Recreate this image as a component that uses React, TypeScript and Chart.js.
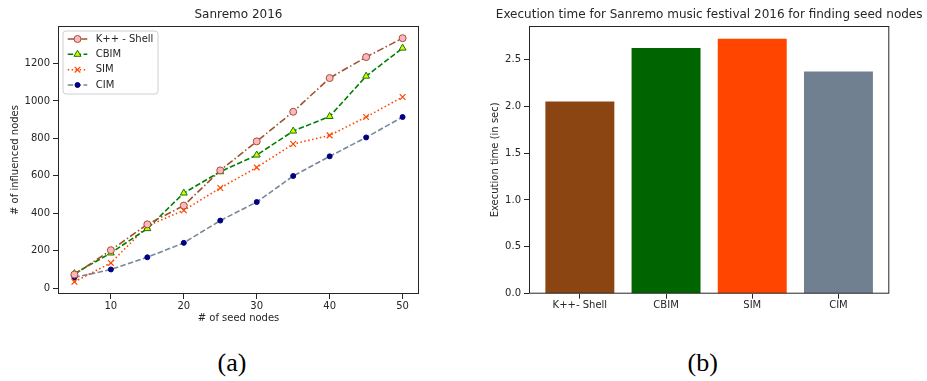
import React, { useEffect, useRef } from "react";
import { Chart, registerables } from "chart.js";

Chart.register(...registerables);

// ---------- Data: chart (a) ----------
const seedNodes = [5, 10, 15, 20, 25, 30, 35, 40, 45, 50];
const kppShell = [73, 203, 341, 441, 629, 784, 942, 1122, 1234, 1335];
const cbim = [78, 188, 318, 508, 622, 711, 839, 917, 1132, 1282];
const sim = [34, 135, 332, 416, 535, 645, 770, 816, 914, 1021];
const cim = [57, 100, 165, 242, 361, 460, 599, 704, 805, 914];
const lineXTicks = [10, 20, 30, 40, 50];
const lineYTicks = [0, 200, 400, 600, 800, 1000, 1200];
const seriesNames = ["K++ - Shell", "CBIM", "SIM", "CIM"];

// ---------- Data: chart (b) ----------
const methods = ["K++- Shell", "CBIM", "SIM", "CIM"];
const execTimes = [2.05, 2.62, 2.72, 2.37];
const barYTicks = [0, 0.5, 1.0, 1.5, 2.0, 2.5];

const FONT = "'DejaVu Sans', sans-serif";
const TXT = "#262626";
const AX = "#262626";

function drawMarker(ctx: CanvasRenderingContext2D, style: string, x: number, y: number, r: number, fill: string, stroke: string, bw: number) {
  ctx.save();
  ctx.setLineDash([]);
  ctx.lineWidth = bw;
  ctx.strokeStyle = stroke;
  ctx.fillStyle = fill;
  ctx.beginPath();
  if (style === "circle") {
    ctx.arc(x, y, r, 0, Math.PI * 2);
    ctx.fill();
    ctx.stroke();
  } else if (style === "triangle") {
    let a = 0;
    ctx.moveTo(x + Math.sin(a) * r, y - Math.cos(a) * r);
    a += (2 * Math.PI) / 3;
    ctx.lineTo(x + Math.sin(a) * r, y - Math.cos(a) * r);
    a += (2 * Math.PI) / 3;
    ctx.lineTo(x + Math.sin(a) * r, y - Math.cos(a) * r);
    ctx.closePath();
    ctx.fill();
    ctx.stroke();
  } else if (style === "crossRot") {
    const d = r * Math.SQRT1_2;
    ctx.moveTo(x - d, y - d);
    ctx.lineTo(x + d, y + d);
    ctx.moveTo(x + d, y - d);
    ctx.lineTo(x - d, y + d);
    ctx.stroke();
  }
  ctx.restore();
}

const framePlugin = {
  id: "frameAndTitle",
  afterDraw(chart: any) {
    const { ctx, chartArea } = chart;
    const o = chart.options.plugins.frameAndTitle || {};
    ctx.save();
    ctx.strokeStyle = AX;
    ctx.lineWidth = 1;
    ctx.setLineDash([]);
    ctx.strokeRect(chartArea.left + 0.5, chartArea.top + 0.5, chartArea.right - chartArea.left - 1, chartArea.bottom - chartArea.top - 1);
    if (o.text) {
      ctx.fillStyle = TXT;
      ctx.font = `12px ${FONT}`;
      ctx.textAlign = "center";
      ctx.textBaseline = "middle";
      ctx.fillText(o.text, (chartArea.left + chartArea.right) / 2, o.y);
    }
    ctx.restore();
  },
};

const legendPlugin = {
  id: "innerLegend",
  afterDraw(chart: any) {
    const o = chart.options.plugins.innerLegend;
    if (!o || !o.show) return;
    const { ctx } = chart;
    ctx.save();
    const bx = 63, by = 31, bw = 95, bh = 63;
    ctx.beginPath();
    const rr = 3;
    ctx.moveTo(bx + rr, by);
    ctx.arcTo(bx + bw, by, bx + bw, by + bh, rr);
    ctx.arcTo(bx + bw, by + bh, bx, by + bh, rr);
    ctx.arcTo(bx, by + bh, bx, by, rr);
    ctx.arcTo(bx, by, bx + bw, by, rr);
    ctx.closePath();
    ctx.fillStyle = "rgba(255,255,255,0.85)";
    ctx.fill();
    ctx.strokeStyle = "#d0d0d0";
    ctx.lineWidth = 1;
    ctx.stroke();
    const ys = [39, 54.3, 69.7, 85];
    chart.data.datasets.forEach((ds: any, i: number) => {
      const y = ys[i];
      ctx.save();
      ctx.strokeStyle = ds.borderColor;
      ctx.lineWidth = ds.borderWidth;
      ctx.setLineDash(ds.borderDash || []);
      ctx.beginPath();
      ctx.moveTo(67.7, y);
      ctx.lineTo(87.3, y);
      ctx.stroke();
      ctx.restore();
      drawMarker(ctx, ds.pointStyle, 77.5, y, ds.pointRadius, ds.pointBackgroundColor, ds.pointBorderColor, ds.pointBorderWidth);
      ctx.fillStyle = TXT;
      ctx.font = `10px ${FONT}`;
      ctx.textAlign = "left";
      ctx.textBaseline = "middle";
      ctx.fillText(ds.label, 95.7, y);
    });
    ctx.restore();
  },
};

function LineChart() {
  const ref = useRef<HTMLCanvasElement>(null);
  useEffect(() => {
    if (!ref.current) return;
    const mk = (vals: number[]) => seedNodes.map((x, i) => ({ x, y: vals[i] }));
    const chart = new Chart(ref.current, {
      type: "line",
      data: {
        datasets: [
          {
            label: seriesNames[0],
            data: mk(kppShell),
            borderColor: "#A0522D",
            borderWidth: 1.6,
            borderDash: [7, 2.5, 1.5, 2.5],
            pointStyle: "circle",
            pointRadius: 3.5,
            pointBackgroundColor: "#FFB6C1",
            pointBorderColor: "#A0522D",
            pointBorderWidth: 1,
          },
          {
            label: seriesNames[1],
            data: mk(cbim),
            borderColor: "#008000",
            borderWidth: 1.6,
            borderDash: [5.5, 2.4],
            pointStyle: "triangle",
            pointRadius: 4,
            pointBackgroundColor: "#EEEE00",
            pointBorderColor: "#008000",
            pointBorderWidth: 1,
          },
          {
            label: seriesNames[2],
            data: mk(sim),
            borderColor: "#FF4500",
            borderWidth: 1.6,
            borderDash: [1.5, 2.5],
            pointStyle: "crossRot",
            pointRadius: 4,
            pointBackgroundColor: "#FF4500",
            pointBorderColor: "#FF4500",
            pointBorderWidth: 1.2,
          },
          {
            label: seriesNames[3],
            data: mk(cim),
            borderColor: "#778899",
            borderWidth: 1.6,
            borderDash: [5.5, 2.4],
            pointStyle: "circle",
            pointRadius: 2.5,
            pointBackgroundColor: "#000080",
            pointBorderColor: "#000080",
            pointBorderWidth: 1,
          },
        ] as any,
      },
      options: {
        animation: false,
        responsive: false,
        maintainAspectRatio: false,
        layout: { padding: { top: 26, right: 21, left: 0, bottom: 0 } },
        elements: { line: { tension: 0 } },
        plugins: {
          legend: { display: false },
          tooltip: { enabled: false },
          title: { display: false },
          frameAndTitle: { text: "Sanremo 2016", y: 15 },
          innerLegend: { show: true },
        } as any,
        scales: {
          x: {
            type: "linear",
            min: 2.75,
            max: 52.25,
            afterBuildTicks: (s: any) => { s.ticks = lineXTicks.map((v) => ({ value: v })); },
            afterFit: (s: any) => { s.height = 46; },
            grid: { display: true, drawOnChartArea: false, drawTicks: true, tickLength: 5, tickColor: AX },
            border: { display: false },
            ticks: { color: TXT, font: { family: FONT, size: 10 }, padding: 1, maxRotation: 0, autoSkip: false, callback: (v: any) => String(v) },
            title: { display: true, text: "# of seed nodes", color: TXT, font: { family: FONT, size: 10 }, padding: { top: 0, bottom: 16 } },
          },
          y: {
            type: "linear",
            min: -31,
            max: 1400,
            afterBuildTicks: (s: any) => { s.ticks = lineYTicks.map((v) => ({ value: v })); },
            afterFit: (s: any) => { s.width = 58; },
            grid: { display: true, drawOnChartArea: false, drawTicks: true, tickLength: 5, tickColor: AX },
            border: { display: false },
            ticks: { color: TXT, font: { family: FONT, size: 10 }, padding: 3, autoSkip: false, callback: (v: any) => String(v) },
            title: { display: true, text: "# of influenced nodes", color: TXT, font: { family: FONT, size: 10 }, padding: { top: 9, bottom: 0 } },
          },
        },
      },
      plugins: [framePlugin, legendPlugin],
    });
    return () => chart.destroy();
  }, []);
  return <canvas ref={ref} width={440} height={340} style={{ position: "absolute", left: 0, top: 0, width: 440, height: 340 }} />;
}

function BarChart() {
  const ref = useRef<HTMLCanvasElement>(null);
  useEffect(() => {
    if (!ref.current) return;
    const chart = new Chart(ref.current, {
      type: "bar",
      data: {
        datasets: [
          {
            label: "Execution time",
            data: methods.map((_, i) => ({ x: i, y: execTimes[i] })),
            backgroundColor: ["#8B4513", "#006400", "#FF4500", "#708090"],
            borderWidth: 0,
            categoryPercentage: 1,
            barPercentage: 0.8,
          },
        ] as any,
      },
      options: {
        animation: false,
        responsive: false,
        maintainAspectRatio: false,
        layout: { padding: { top: 26, right: 37.7, left: 0, bottom: 0 } },
        plugins: {
          legend: { display: false },
          tooltip: { enabled: false },
          title: { display: false },
          frameAndTitle: { text: "Execution time for Sanremo music festival 2016 for finding seed nodes", y: 15 },
        } as any,
        scales: {
          x: {
            type: "linear",
            min: -0.59,
            max: 3.59,
            offset: false,
            afterBuildTicks: (s: any) => { s.ticks = methods.map((_, i) => ({ value: i })); },
            afterFit: (s: any) => { s.height = 46.3; },
            grid: { display: true, drawOnChartArea: false, drawTicks: true, tickLength: 5, tickColor: AX, offset: false },
            border: { display: false },
            ticks: {
              color: TXT,
              font: { family: FONT, size: 10 },
              padding: 1,
              maxRotation: 0,
              autoSkip: false,
              callback: (v: any) => methods[Math.round(Number(v))] ?? "",
            },
          },
          y: {
            type: "linear",
            min: 0,
            max: 2.856,
            afterBuildTicks: (s: any) => { s.ticks = barYTicks.map((v) => ({ value: v })); },
            afterFit: (s: any) => { s.width = 89; },
            grid: { display: true, drawOnChartArea: false, drawTicks: true, tickLength: 5, tickColor: AX },
            border: { display: false },
            ticks: { color: TXT, font: { family: FONT, size: 10 }, padding: 3, autoSkip: false, callback: (v: any) => Number(v).toFixed(1) },
            title: { display: true, text: "Execution time (in sec)", color: TXT, font: { family: FONT, size: 10 }, padding: { top: 49.7, bottom: 0 } },
          },
        },
      },
      plugins: [framePlugin],
    });
    return () => chart.destroy();
  }, []);
  return <canvas ref={ref} width={487} height={340} style={{ position: "absolute", left: 440, top: 0, width: 487, height: 340 }} />;
}

export default function App() {
  const cap: React.CSSProperties = {
    position: "absolute",
    top: 350,
    width: 200,
    textAlign: "center",
    fontFamily: "'Liberation Serif', 'Times New Roman', serif",
    fontSize: 26,
    lineHeight: "26px",
    color: "#000",
  };
  return (
    <div style={{ position: "absolute", left: 0, top: 0, width: 927, height: 381, background: "#fff", overflow: "hidden" }}>
      <LineChart />
      <BarChart />
      <div style={{ ...cap, left: 232 - 100 }}>(a)</div>
      <div style={{ ...cap, left: 702.7 - 100 }}>(b)</div>
    </div>
  );
}
